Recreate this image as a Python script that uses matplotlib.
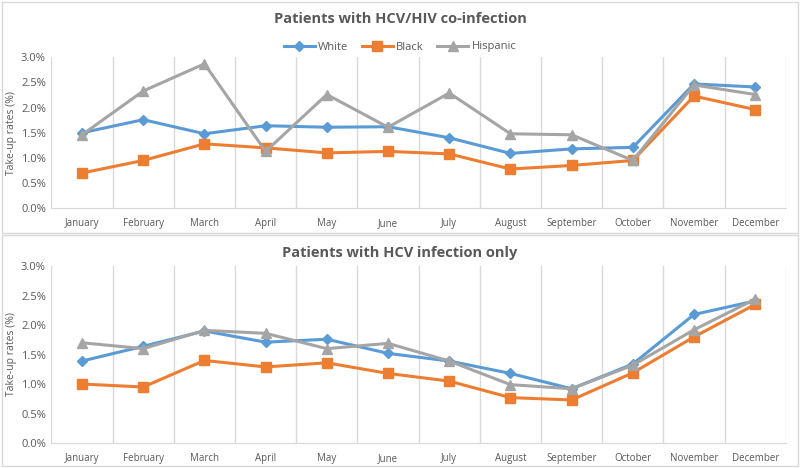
import numpy as np
import matplotlib
matplotlib.use("Agg")
import matplotlib.pyplot as plt
from matplotlib.patches import Rectangle

plt.rcParams['font.family'] = ['Open Sans', 'DejaVu Sans']

months = ["January", "February", "March", "April", "May", "June", "July",
          "August", "September", "October", "November", "December"]

# take-up rates (%), HCV/HIV co-infection
coinf_white = [1.50, 1.76, 1.48, 1.64, 1.61, 1.62, 1.40, 1.09, 1.18, 1.21, 2.47, 2.41]
coinf_black = [0.70, 0.95, 1.28, 1.20, 1.10, 1.13, 1.08, 0.78, 0.85, 0.95, 2.23, 1.96]
coinf_hisp = [1.46, 2.33, 2.87, 1.13, 2.26, 1.61, 2.29, 1.48, 1.46, 0.95, 2.45, 2.26]

# take-up rates (%), HCV only
hcv_white = [1.39, 1.64, 1.90, 1.71, 1.76, 1.52, 1.39, 1.18, 0.92, 1.34, 2.18, 2.41]
hcv_black = [1.00, 0.95, 1.40, 1.29, 1.36, 1.18, 1.05, 0.77, 0.73, 1.19, 1.80, 2.35]
hcv_hisp = [1.70, 1.60, 1.91, 1.86, 1.60, 1.69, 1.39, 0.99, 0.92, 1.32, 1.92, 2.44]

yticks = [0.0, 0.5, 1.0, 1.5, 2.0, 2.5, 3.0]

c_white = '#5B9BD5'
c_black = '#ED7D31'
c_hisp = '#A5A5A5'
txt = '#595959'
grid = '#D9D9D9'

fig = plt.figure(figsize=(8, 4.68), dpi=100)

# panel frames
for y0, h in [(0.503, 0.493), (0.004, 0.493)]:
    fig.patches.append(Rectangle((0.003, y0), 0.994, h, transform=fig.transFigure,
                                 fill=False, ec='#D9D9D9', lw=1))

ax1 = fig.add_axes([0.0643, 0.555, 0.918, 0.3226])
ax2 = fig.add_axes([0.0643, 0.0534, 0.918, 0.378])

def style(ax, title, ty):
    x = np.arange(len(months))
    ax.set_xlim(-0.5, 11.5)
    ax.set_ylim(0, 3.0)
    ax.set_xticks(x)
    ax.set_xticklabels(months, fontsize=7, color=txt)
    ax.set_xticks(np.arange(-0.5, 12, 1), minor=True)
    ax.tick_params(axis='x', which='both', length=0, pad=7)
    ax.set_yticks(yticks)
    ax.set_yticklabels(['{:.1f}%'.format(v) for v in yticks], fontsize=8, color=txt)
    ax.tick_params(axis='y', length=0, pad=4)
    ax.grid(axis='x', which='minor', color=grid, lw=1)
    for s in ['top', 'right', 'left']:
        ax.spines[s].set_visible(False)
    ax.spines['bottom'].set_color(grid)
    ax.set_ylabel('Take-up rates (%)', fontsize=7.5, color=txt, labelpad=3)
    ax.set_axisbelow(True)
    fig.text(0.5, ty, title, ha='center', va='center', fontsize=10.5,
             fontweight='bold', color=txt)

def draw(ax, w, b, h):
    x = np.arange(len(months))
    ax.plot(x, w, color=c_white, lw=2.2, marker='D', ms=5, label='White', clip_on=False)
    ax.plot(x, b, color=c_black, lw=2.2, marker='s', ms=7, label='Black', clip_on=False)
    ax.plot(x, h, color=c_hisp, lw=2.2, marker='^', ms=7, label='Hispanic', clip_on=False)

draw(ax1, coinf_white, coinf_black, coinf_hisp)
draw(ax2, hcv_white, hcv_black, hcv_hisp)
style(ax1, 'Patients with HCV/HIV co-infection', 1 - 19 / 468)
style(ax2, 'Patients with HCV infection only', 1 - 253 / 468)

leg = fig.legend(*ax1.get_legend_handles_labels(), loc='center', ncol=3,
                 bbox_to_anchor=(0.5, 1 - 47 / 468), frameon=False, fontsize=8,
                 handlelength=2.8, columnspacing=1.2, handletextpad=0.3)
for t in leg.get_texts():
    t.set_color(txt)

fig.savefig('out.png', dpi=100)
